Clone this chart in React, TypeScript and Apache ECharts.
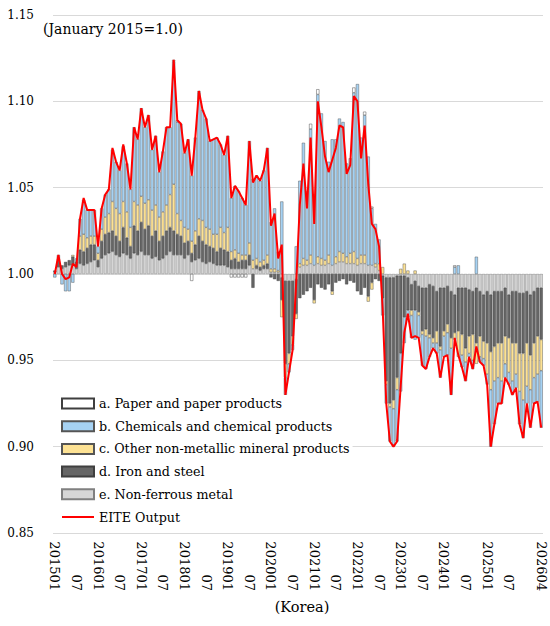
import React, { useEffect, useRef } from "react";
import * as echarts from "echarts";

const FONT = "DejaVu Serif";

// Months 2015-01 .. 2026-04 (category axis)
const categories: string[] = [];
for (let k = 0; k < 136; k++) {
  const y = 2015 + Math.floor(k / 12);
  const m = (k % 12) + 1;
  categories.push(`${y}${String(m).padStart(2, "0")}`);
}

const tickLabels = [
  "201501", "201507", "201601", "201607", "201701", "201707", "201801", "201807",
  "201901", "201907", "202001", "202007", "202101", "202107", "202201", "202207",
  "202301", "202307", "202401", "202407", "202501", "202507", "202604",
];

const yTicks = [0.85, 0.9, 0.95, 1.0, 1.05, 1.1, 1.15];

// e. Non-ferrous metal (contribution)
const nonFerrous = [
  0.001, 0.004, 0.003, 0.004, 0.005, 0.005, 0.003, 0.006, 0.005, 0.006, 0.007, 0.008,
  0.004, 0.009, 0.011, 0.012, 0.013, 0.011, 0.010, 0.012, 0.011, 0.009, 0.012, 0.011,
  0.013, 0.011, 0.011, 0.009, 0.010, 0.008, 0.009, 0.011, 0.013, 0.011, 0.011, 0.011,
  0.009, 0.011, 0.007, 0.008, 0.009, 0.007, 0.006, 0.007, 0.006, 0.005, 0.005, 0.005,
  0.004, 0.003, 0.003, 0.003, 0.003, 0.003, 0.005, 0.003, 0.003, 0.002, 0.003, 0.003,
  0.001, 0.001, 0.001, -0.002, -0.004, -0.004, -0.004, -0.003, 0.004, 0.005, 0.005, 0.006,
  0.005, 0.006, 0.005, 0.005, 0.006, 0.005, 0.006, 0.007, 0.007, 0.006, 0.006, 0.006,
  0.005, 0.006, 0.006, 0.005, 0.005, 0.004, 0.002, -0.001, -0.002, -0.002, -0.002, -0.001,
  -0.001, -0.001, -0.002, -0.006, -0.004, -0.007, -0.008, -0.008, -0.006, -0.007, -0.010, -0.008,
  -0.008, -0.007, -0.010, -0.012, -0.008, -0.008, -0.008, -0.009, -0.010, -0.008, -0.010, -0.012,
  -0.010, -0.012, -0.010, -0.010, -0.010, -0.008, -0.012, -0.010, -0.010, -0.011, -0.011, -0.010,
  -0.012, -0.010, -0.008, -0.008,
];

// d. Iron and steel
const ironSteel = [
  0.001, 0.004, 0.002, 0.003, 0.003, 0.005, 0.004, 0.008, 0.008, 0.009, 0.010, 0.009,
  0.004, 0.010, 0.012, 0.012, 0.012, 0.011, 0.009, 0.015, 0.010, 0.007, 0.016, 0.014,
  0.017, 0.015, 0.017, 0.013, 0.015, 0.011, 0.013, 0.014, 0.014, 0.014, 0.012, 0.011,
  0.009, 0.008, 0.005, 0.009, 0.013, 0.012, 0.011, 0.009, 0.009, 0.008, 0.010, 0.009,
  0.009, 0.005, 0.006, 0.004, 0.005, 0.005, 0.006, -0.008, 0.002, 0.002, 0.002, 0.003,
  -0.002, -0.003, -0.004, -0.013, -0.048, -0.042, -0.032, -0.020, -0.014, -0.012, -0.010, -0.008,
  -0.015, -0.006, -0.008, -0.009, -0.006, -0.010, -0.005, -0.004, -0.003, -0.006, -0.004, -0.005,
  -0.010, -0.012, -0.008, -0.013, -0.005, -0.003, -0.004, -0.013, -0.060, -0.073, -0.071, -0.059,
  -0.045, -0.024, -0.019, -0.015, -0.017, -0.015, -0.025, -0.024, -0.029, -0.030, -0.023, -0.034,
  -0.025, -0.022, -0.027, -0.022, -0.025, -0.027, -0.035, -0.027, -0.025, -0.032, -0.026, -0.027,
  -0.030, -0.033, -0.032, -0.030, -0.030, -0.028, -0.025, -0.030, -0.030, -0.035, -0.035, -0.030,
  -0.035, -0.030, -0.028, -0.030,
];

// c. Other non-metallic mineral products
const nonMetallic = [
  0, 0.001, 0, 0, 0, 0.001, 0, 0.008, 0.010, 0.006, 0.005, 0.005,
  0.004, 0.007, 0.010, 0.011, 0.017, 0.016, 0.016, 0.015, 0.015, 0.011, 0.014, 0.015,
  0.015, 0.015, 0.015, 0.015, 0.015, 0.014, 0.014, 0.015, 0.019, 0.027, 0.012, 0.009,
  0.009, 0.007, 0.007, 0.008, 0.010, 0.012, 0.010, 0.010, 0.008, 0.010, 0.012, 0.010,
  0.014, 0.005, 0.005, 0.005, 0.003, 0.003, 0.007, 0.005, 0.004, 0.003, 0.003, 0.005,
  0.002, 0.002, 0.001, -0.010, -0.008, -0.006, -0.005, -0.003, 0.002, 0.004, 0.003, 0.005,
  -0.002, 0.004, 0.004, 0.003, 0.005, -0.002, 0.004, 0.006, 0.005, 0.004, 0.006, 0.007,
  0.004, 0.005, 0.005, -0.003, -0.004, 0.002, 0.004, 0.004, -0.002, -0.002, -0.005, -0.007,
  0.003, 0.006, 0.002, -0.003, 0.002, -0.002, -0.002, -0.004, -0.002, -0.003, -0.007, -0.002,
  -0.003, -0.005, -0.006, -0.004, -0.015, -0.012, -0.008, -0.010, -0.015, -0.012, -0.012, -0.010,
  -0.018, -0.022, -0.020, -0.020, -0.022, -0.016, -0.020, -0.022, -0.018, -0.022, -0.027, -0.025,
  -0.020, -0.020, -0.022, -0.018,
];

// b. Chemicals and chemical products
const chemicals = [
  -0.002, 0.002, -0.006, -0.010, -0.010, -0.005, 0.002, 0.010, 0.020, 0.016, 0.015, 0.015,
  0.004, 0.012, 0.013, 0.014, 0.030, 0.027, 0.025, 0.032, 0.028, 0.022, 0.043, 0.038,
  0.051, 0.044, 0.049, 0.035, 0.040, 0.026, 0.035, 0.045, 0.039, 0.071, 0.053, 0.056,
  0.043, 0.052, 0.038, 0.054, 0.073, 0.064, 0.063, 0.051, 0.055, 0.056, 0.048, 0.045,
  0.053, 0.031, 0.037, 0.036, 0.033, 0.029, 0.059, 0.047, 0.048, 0.047, 0.052, 0.062,
  0.027, 0.035, 0.011, 0.042, -0.010, -0.005, -0.003, 0.016, 0.048, 0.067, 0.040, 0.073,
  0.041, 0.094, 0.084, 0.069, 0.054, 0.073, 0.068, 0.077, 0.076, 0.054, 0.055, 0.092,
  0.101, 0.068, 0.081, 0.063, 0.033, 0.023, 0.014, -0.010, -0.011, -0.020, -0.021, -0.029,
  -0.022, -0.015, -0.004, -0.013, -0.017, -0.013, -0.018, -0.019, -0.011, -0.003, -0.006, -0.016,
  -0.012, -0.013, -0.027, 0.004, 0.005, -0.007, -0.011, -0.002, -0.005, 0.010, -0.003, -0.004,
  -0.006, -0.033, -0.025, -0.015, -0.013, -0.008, -0.007, -0.008, -0.008, -0.019, -0.022, -0.010,
  -0.022, -0.015, -0.016, -0.033,
];

// a. Paper and paper products
const paper = [
  0, 0, 0, 0, 0, 0, 0, 0, 0, 0, 0, 0,
  0, 0, 0, 0, 0, 0, 0, 0, 0, 0, 0, 0,
  0, 0, 0, 0, 0, 0, 0, 0, 0, 0.001, 0.001, 0,
  0, 0, -0.004, 0, 0.001, 0, 0, 0, 0, 0, 0, 0,
  0, -0.002, -0.002, -0.002, -0.002, -0.002, 0, 0, 0, 0, 0, 0,
  0, 0, 0, 0, 0, 0, 0, 0, 0, 0, 0, 0.003,
  0, 0.003, 0, 0, 0, 0, 0, 0, 0, 0, 0, 0.003,
  0, 0, 0.002, 0, 0.001, 0, 0, 0, 0, 0, -0.001, -0.001,
  0, 0, 0, 0, 0, 0, 0, 0, 0, 0, 0, 0,
  0, 0, 0, 0.001, 0, 0, 0, 0, 0, 0, 0, 0,
  0, 0, 0, 0, 0, 0, 0, 0, 0, 0, 0, 0,
  0, 0, 0, 0,
];

// EITE Output index (January 2015 = 1.0)
const eiteOutput = [
  1.000, 1.011, 1.000, 0.997, 0.998, 1.006, 1.004, 1.032, 1.044, 1.037, 1.037, 1.037,
  1.016, 1.038, 1.046, 1.049, 1.073, 1.065, 1.060, 1.075, 1.064, 1.049, 1.085, 1.078,
  1.096, 1.085, 1.092, 1.072, 1.080, 1.059, 1.071, 1.085, 1.085, 1.124, 1.089, 1.087,
  1.070, 1.078, 1.057, 1.079, 1.106, 1.095, 1.090, 1.077, 1.078, 1.079, 1.075, 1.069,
  1.080, 1.044, 1.051, 1.048, 1.044, 1.040, 1.077, 1.053, 1.057, 1.054, 1.060, 1.073,
  1.028, 1.035, 1.009, 1.017, 0.930, 0.943, 0.956, 0.995, 1.040, 1.064, 1.038, 1.079,
  1.029, 1.100, 1.085, 1.068, 1.059, 1.066, 1.073, 1.086, 1.085, 1.058, 1.063, 1.103,
  1.100, 1.067, 1.086, 1.052, 1.029, 1.026, 1.016, 0.980, 0.925, 0.903, 0.900, 0.903,
  0.935, 0.966, 0.977, 0.963, 0.964, 0.963, 0.947, 0.945, 0.952, 0.957, 0.954, 0.940,
  0.952, 0.953, 0.930, 0.963, 0.953, 0.946, 0.938, 0.952, 0.945, 0.958, 0.949, 0.947,
  0.936, 0.900, 0.913, 0.925, 0.925, 0.940, 0.936, 0.930, 0.934, 0.913, 0.905, 0.925,
  0.911, 0.925, 0.926, 0.911,
];

const NAMES = {
  a: "a. Paper and paper products",
  b: "b. Chemicals and chemical products",
  c: "c. Other non-metallic mineral products",
  d: "d. Iron and steel",
  e: "e. Non-ferrous metal",
  line: "EITE Output",
};

const nz = (arr: number[]) => arr.map((v) => (v === 0 ? null : v));

export default function App() {
  const ref = useRef<HTMLDivElement>(null);

  useEffect(() => {
    if (!ref.current) return;
    const chart = echarts.init(ref.current, undefined, { renderer: "svg" });

    const barSeries = (name: string, data: number[], color: string, border: string) => ({
      name,
      type: "bar",
      yAxisIndex: 1,
      stack: "eite",
      data: nz(data),
      barCategoryGap: "14%",
      itemStyle: { color, borderColor: border, borderWidth: 0.45 },
      emphasis: { disabled: true },
    });

    chart.setOption({
      animation: false,
      textStyle: { fontFamily: FONT },
      grid: { left: 53, right: 7, top: 15, bottom: 93 },
      legend: {
        data: [
          { name: NAMES.a, icon: "rect" },
          { name: NAMES.b, icon: "rect" },
          { name: NAMES.c, icon: "rect" },
          { name: NAMES.d, icon: "rect" },
          { name: NAMES.e, icon: "rect" },
          { name: NAMES.line, itemStyle: { opacity: 0 } },
        ],
        orient: "vertical",
        left: 61,
        top: 395,
        itemWidth: 32,
        itemHeight: 10,
        itemGap: 5.7,
        padding: [0, 3, 0, 0],
        backgroundColor: "#ffffff",
        textStyle: { fontFamily: FONT, fontSize: 12.7, color: "#000", lineHeight: 17 },
      },
      xAxis: {
        type: "category",
        data: categories,
        boundaryGap: true,
        axisLine: { show: false },
        axisTick: { show: false },
        axisLabel: {
          interval: (_i: number, v: string) => tickLabels.includes(v),
          rotate: -90,
          margin: 8,
          fontFamily: FONT,
          fontSize: 13,
          color: "#000",
          formatter: (v: string) => `{t|${v.endsWith("07") ? "07" : v}}`,
          rich: {
            t: { width: 50, align: "right", fontFamily: FONT, fontSize: 13, color: "#000" },
          },
        },
      },
      yAxis: [
        {
          type: "value",
          min: yTicks[0],
          max: yTicks[yTicks.length - 1],
          interval: 0.05,
          axisLine: { show: false },
          axisTick: { show: false },
          splitLine: { show: true, lineStyle: { color: "#d9d9d9", width: 1 } },
          axisLabel: {
            margin: 19,
            fontFamily: FONT,
            fontSize: 12,
            color: "#000",
            formatter: (v: number) => v.toFixed(2),
          },
        },
        {
          type: "value",
          min: -0.15,
          max: 0.15,
          show: false,
          splitLine: { show: false },
        },
      ],
      graphic: [
        {
          type: "text",
          left: 43,
          top: 22,
          style: {
            text: "(January 2015=1.0)",
            fontFamily: FONT,
            fontSize: 14,
            fill: "#000",
          },
        },
        {
          type: "text",
          x: 302,
          y: 607,
          style: {
            text: "(Korea)",
            fontFamily: FONT,
            fontSize: 14.5,
            fill: "#000",
            align: "center",
            verticalAlign: "middle",
          },
        },
      ],
      series: [
        barSeries(NAMES.e, nonFerrous, "#d6d6d6", "#808080"),
        barSeries(NAMES.d, ironSteel, "#666666", "#3f3f3f"),
        barSeries(NAMES.c, nonMetallic, "#fde294", "#555555"),
        barSeries(NAMES.b, chemicals, "#a6d2f3", "#555555"),
        barSeries(NAMES.a, paper, "#ffffff", "#3f3f3f"),
        {
          name: NAMES.line,
          type: "line",
          yAxisIndex: 0,
          data: eiteOutput,
          symbol: "none",
          showSymbol: false,
          z: 5,
          lineStyle: { color: "#ff0000", width: 2 },
          itemStyle: { color: "#ff0000" },
          emphasis: { disabled: true },
        },
      ],
    });

    return () => chart.dispose();
  }, []);

  return (
    <div
      ref={ref}
      style={{ position: "absolute", left: 0, top: 0, width: 550, height: 626 }}
    />
  );
}
